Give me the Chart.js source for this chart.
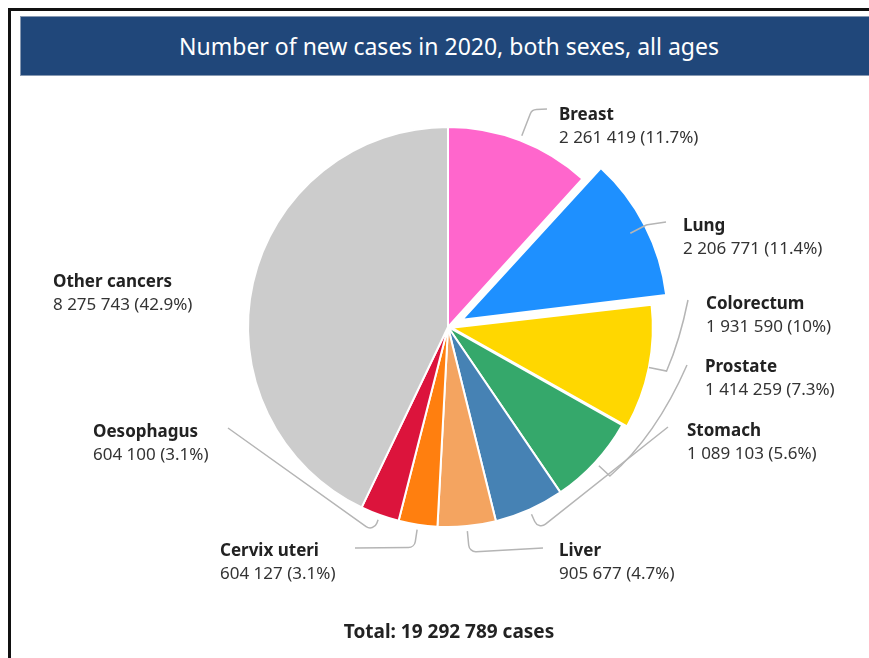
<!DOCTYPE html>
<html>
<head>
<meta charset="utf-8">
<script src="https://cdn.jsdelivr.net/npm/chart.js@4.4.1/dist/chart.umd.min.js"></script>
<style>
  body { margin: 0; background: #fff; width: 869px; height: 658px; overflow: hidden; position: relative; font-family: 'Noto Sans', 'Open Sans', sans-serif; }
  .frame { position: absolute; left: 8px; top: 8px; width: 900px; height: 700px; border-left: 3px solid #111; border-top: 3px solid #111; }
  .title-bar { position: absolute; left: 20px; top: 16px; width: 870px; height: 58px; background: #20477a; border: 1px solid #8799b2; border-right: none; }
  .title-text { position: absolute; left: 0; top: 16px; width: 898px; height: 60px; line-height: 60px; text-align: center; color: #fff; font-size: 23px; }
  #chartWrap { position: absolute; left: 0; top: 0; width: 869px; height: 658px; }
</style>
</head>
<body>
<div class="frame"></div>
<div class="title-bar"></div>
<div class="title-text">Number of new cases in 2020, both sexes, all ages</div>
<div id="chartWrap"><canvas id="cancerChart" width="869" height="658"></canvas></div>

<script>
const categories = ['Breast', 'Lung', 'Colorectum', 'Prostate', 'Stomach', 'Liver', 'Cervix uteri', 'Oesophagus', 'Other cancers'];
const newCases = [2261419, 2206771, 1931590, 1414259, 1089103, 905677, 604127, 604100, 8275743];
const sliceColors = ['#ff66cc', '#1e90ff', '#ffd700', '#35a86b', '#4682b4', '#f4a460', '#ff7f0f', '#dc143c', '#cccccc'];
// chart.js moves an arc out by offset/4 px
const sliceOffsets = [0, 64, 14, 0, 0, 0, 0, 0, 0];

// where each label sits and where its leader line ends (page pixels)
const labelLayout = [
  { x: 559, y: 115, ex: 547, ey: 109, elbow: 28 },
  { x: 683, y: 226, ex: 666, ey: 222, elbow: 18 },
  { x: 706, y: 304, ex: 688, ey: 300, elbow: 18, cx: 680, cy: 340 },
  { x: 705, y: 367, ex: 687, ey: 365, elbow: 15, cx: 656, cy: 436 },
  { x: 687, y: 431, ex: 668, ey: 427, elbow: 17 },
  { x: 559, y: 551, ex: 543, ey: 548, elbow: 21 },
  { x: 220, y: 551, ex: 355, ey: 548, elbow: 18 },
  { x: 93, y: 432, ex: 228, ey: 428, elbow: 13 },
  { x: 53, y: 282, ex: null, ey: null, elbow: 0 }
];

const totalCases = newCases.reduce((a, b) => a + b, 0);

function fmt(n) {
  return String(n).replace(/\B(?=(\d{3})+(?!\d))/g, ' ');
}
function pct(n) {
  return (n / totalCases * 100).toFixed(1).replace(/\.0$/, '') + '%';
}

const sliceLabels = {
  id: 'sliceLabels',
  afterDatasetsDraw(chart) {
    const ctx = chart.ctx;
    const meta = chart.getDatasetMeta(0);
    ctx.save();
    meta.data.forEach((arc, i) => {
      const lay = labelLayout[i];
      const { x, y, startAngle, endAngle, outerRadius } = arc.getProps(['x', 'y', 'startAngle', 'endAngle', 'outerRadius'], true);
      const mid = (startAngle + endAngle) / 2;
      if (lay.ex !== null) {
        const ax = x + Math.cos(mid) * (outerRadius + 5);
        const ay = y + Math.sin(mid) * (outerRadius + 5);
        const bx = x + Math.cos(mid) * (outerRadius + 5 + lay.elbow);
        const by = y + Math.sin(mid) * (outerRadius + 5 + lay.elbow);
        ctx.beginPath();
        ctx.moveTo(ax, ay);
        if (lay.cx) {
          ctx.lineTo(bx, by);
          ctx.quadraticCurveTo(lay.cx, lay.cy, lay.ex, lay.ey);
        } else {
          ctx.arcTo(bx, by, lay.ex, lay.ey, 7);
          ctx.lineTo(lay.ex, lay.ey);
        }
        ctx.strokeStyle = '#b5b5b5';
        ctx.lineWidth = 1.5;
        ctx.stroke();
      }
      ctx.textAlign = 'left';
      ctx.textBaseline = 'middle';
      ctx.fillStyle = '#222';
      ctx.font = "bold 17px 'Noto Sans'";
      ctx.fillText(categories[i], lay.x, lay.y);
      ctx.fillStyle = '#333';
      ctx.font = "17px 'Noto Sans'";
      ctx.fillText(fmt(newCases[i]) + ' (' + pct(newCases[i]) + ')', lay.x, lay.y + 23);
    });
    ctx.textAlign = 'center';
    ctx.fillStyle = '#222';
    ctx.font = "bold 19px 'Noto Sans'";
    ctx.fillText('Total: ' + fmt(totalCases) + ' cases', 449, 633);
    ctx.restore();
  }
};

new Chart(document.getElementById('cancerChart'), {
  type: 'pie',
  data: {
    labels: categories,
    datasets: [{
      data: newCases,
      backgroundColor: sliceColors,
      borderColor: '#fff',
      borderWidth: 2,
      offset: sliceOffsets
    }]
  },
  options: {
    responsive: false,
    animation: false,
    radius: 200,
    layout: { padding: { left: 48, right: 21, top: 127, bottom: 131 } },
    plugins: {
      legend: { display: false },
      tooltip: { enabled: false }
    }
  },
  plugins: [sliceLabels]
});
</script>
</body>
</html>
